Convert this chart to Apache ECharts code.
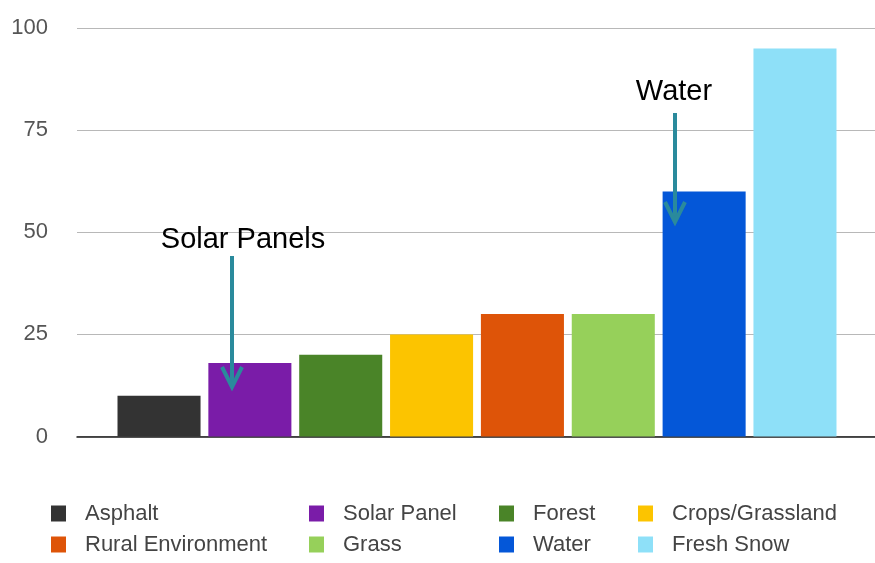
<!DOCTYPE html>
<html>
<head>
<meta charset="utf-8">
<script src="https://cdn.jsdelivr.net/npm/echarts@6/dist/echarts.min.js"></script>
<style>
html,body{margin:0;padding:0;background:#fff;}
#chart{width:875px;height:563px;}
</style>
</head>
<body>
<div id="chart"></div>
<script>
var categories = ['Asphalt','Solar Panel','Forest','Crops/Grassland','Rural Environment','Grass','Water','Fresh Snow'];
var values = [10, 18, 20, 25, 30, 30, 60, 95];
var colors = ['#333333','#7a1ca8','#4a8428','#fcc400','#de5408','#96d05a','#0457d8','#8ee0f8'];
var yTicks = [0, 25, 50, 75, 100];
var legendColumns = [['Asphalt','Rural Environment'],['Solar Panel','Grass'],['Forest','Water'],['Crops/Grassland','Fresh Snow']];
var legendLefts = [46, 304, 494, 633];

var FONT = 'Liberation Sans, Arial, sans-serif';
var chart = echarts.init(document.getElementById('chart'), null, {renderer:'canvas'});

var series = categories.map(function(name, i){
  var d = categories.map(function(c, j){ return j === i ? values[i] : '-'; });
  return {
    name: name, type: 'bar', xAxisIndex: 1, yAxisIndex: 1,
    data: d, barGap: '-100%', barCategoryGap: '8.6%',
    itemStyle: {color: colors[i]}, silent: true
  };
});

var legends = legendColumns.map(function(col, k){
  return {
    orient: 'vertical', left: legendLefts[k], top: 497,
    data: col, icon: 'rect', itemWidth: 15, itemHeight: 16, itemGap: 8,
    textStyle: {fontFamily: FONT, fontSize: 22, color: '#444', padding: [0,0,0,14], lineHeight: 23},
    selectedMode: false
  };
});

var teal = '#2a8a9c';
function arrow(x, y1, y2){
  return [
    {type:'line', shape:{x1:x, y1:y1, x2:x, y2:y2-2}, style:{stroke:teal, lineWidth:4}},
    {type:'polyline', shape:{points:[[x-10,y2-20],[x,y2],[x+10,y2-20]]}, style:{stroke:teal, lineWidth:4, fill:null}}
  ];
}

var option = {
  backgroundColor: '#fff',
  animation: false,
  color: colors,
  legend: legends,
  grid: [
    {left: 77, right: 0, top: 28, bottom: 126.5},
    {left: 113.6, right: 34.6, top: 28, bottom: 126.5}
  ],
  xAxis: [
    {gridIndex: 0, type: 'value', min: 0, max: 1, axisLabel:{show:false}, axisTick:{show:false}, splitLine:{show:false},
     axisLine:{show:true, lineStyle:{color:'#1a1a1a', width:1.5}}},
    {gridIndex: 1, type: 'category', data: categories, axisLabel:{show:false}, axisTick:{show:false}, axisLine:{show:false}}
  ],
  yAxis: [
    {gridIndex: 0, type: 'value', min: 0, max: 100, interval: 25,
     axisLine:{show:false}, axisTick:{show:false},
     axisLabel:{margin: 29, fontFamily: FONT, fontSize: 22, color: '#555'},
     splitLine:{lineStyle:{color:'#b8b8b8', width:1}}},
    {gridIndex: 1, type: 'value', min: 0, max: 100, interval: 25, show: false, splitLine:{show:false}}
  ],
  series: series,
  graphic: [
    {type:'text', x:243, y:240, style:{text:'Solar Panels', fontFamily: FONT, fontSize: 29, fill:'#000', textAlign:'center', textVerticalAlign:'middle'}, z: 100},
    {type:'text', x:674, y:92, style:{text:'Water', fontFamily: FONT, fontSize: 29, fill:'#000', textAlign:'center', textVerticalAlign:'middle'}, z: 100}
  ].concat(arrow(232, 256, 387).map(function(g){g.z=100;return g;}))
   .concat(arrow(675, 113, 222).map(function(g){g.z=100;return g;}))
};
chart.setOption(option);
</script>
</body>
</html>
